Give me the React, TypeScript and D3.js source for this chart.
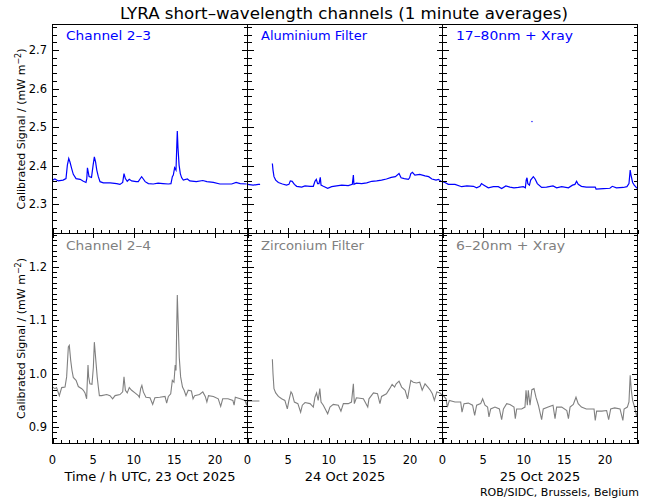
import React from "react";
import * as d3 from "d3";

type Pt = [number, number];

// ---- Data (hours since 23 Oct 2025 00:00 UTC, calibrated signal) ----
const channel23: Pt[] = [
  [0,2.363],[0.3,2.366],[0.7,2.361],[1.3,2.363],[1.66,2.367],[1.83,2.402],[2.0,2.419],[2.15,2.41],[2.36,2.393],[2.56,2.378],[2.9,2.367],[3.4,2.365],[3.8,2.36],[4.12,2.357],[4.22,2.367],[4.3,2.395],[4.4,2.384],[4.5,2.372],[4.8,2.37],[5.0,2.402],[5.15,2.423],[5.3,2.41],[5.45,2.389],[5.64,2.372],[5.85,2.359],[6.26,2.356],[7.1,2.356],[7.9,2.354],[8.3,2.352],[8.64,2.357],[8.8,2.38],[8.97,2.367],[9.2,2.36],[9.45,2.365],[9.74,2.361],[10.3,2.359],[10.56,2.359],[10.77,2.366],[10.97,2.372],[11.18,2.366],[11.4,2.359],[11.8,2.354],[12.4,2.353],[13.0,2.355],[13.6,2.354],[14.26,2.353],[14.58,2.354],[14.75,2.372],[14.87,2.376],[15.03,2.395],[15.2,2.389],[15.3,2.453],[15.36,2.49],[15.45,2.445],[15.58,2.402],[15.73,2.38],[15.9,2.369],[16.1,2.363],[16.6,2.366],[16.9,2.361],[17.7,2.359],[18.5,2.362],[19.0,2.359],[19.8,2.357],[20.6,2.353],[21.4,2.353],[22.05,2.353],[22.6,2.357],[23.1,2.354],[23.9,2.353],
];
const aluminium: Pt[] = [
  [24.0,2.352],[24.7,2.35],[25.33,2.352],[25.55,2.352],[26.3,NaN],[27.06,2.406],[27.14,2.389],[27.26,2.372],[27.47,2.363],[27.8,2.357],[28.3,2.353],[28.8,2.35],[29.1,2.352],[29.27,2.361],[29.5,2.36],[29.77,2.352],[30.05,2.347],[30.67,2.345],[31.08,2.348],[31.7,2.347],[32.1,2.347],[32.3,2.36],[32.47,2.365],[32.63,2.354],[32.8,2.354],[32.96,2.37],[33.05,2.35],[33.33,2.347],[33.87,2.342],[34.36,2.346],[34.97,2.348],[35.6,2.35],[36.4,2.349],[36.9,2.352],[37.03,2.376],[37.1,2.352],[37.4,2.355],[38.05,2.354],[38.67,2.356],[39.3,2.36],[39.9,2.361],[40.5,2.363],[41.1,2.366],[41.7,2.37],[42.2,2.372],[42.65,2.38],[42.9,2.369],[43.3,2.367],[43.8,2.365],[43.95,2.369],[44.1,2.38],[44.3,2.383],[44.6,2.376],[45.2,2.378],[45.85,2.374],[46.3,2.372],[46.7,2.366],[47.2,2.363],[47.5,2.365],[47.9,2.359],
];
const euvXray: Pt[] = [
  [48,2.359],[48.3,2.357],[48.72,2.352],[49.54,2.352],[50.36,2.346],[51.0,2.348],[51.8,2.347],[52.2,2.343],[52.6,2.347],[52.8,2.354],[53.1,2.35],[53.64,2.343],[54.26,2.346],[54.87,2.346],[55.28,2.341],[55.8,2.348],[56.3,2.345],[56.8,2.343],[57.33,2.344],[57.95,2.346],[58.2,2.343],[58.3,2.363],[58.4,2.369],[58.5,2.354],[58.7,2.35],[58.85,2.363],[59.18,2.372],[59.4,2.366],[59.67,2.354],[60.2,2.344],[60.8,2.345],[61.6,2.348],[62.05,2.343],[62.67,2.346],[63.5,2.343],[64.0,2.35],[64.3,2.352],[64.5,2.36],[64.7,2.352],[65.1,2.347],[65.7,2.345],[66.8,2.345],[66.9,2.34],[67.8,2.341],[68.6,2.342],[68.9,2.347],[69.4,2.343],[70.25,2.344],[70.7,2.346],[70.95,2.354],[71.1,2.389],[71.2,2.376],[71.4,2.357],[71.6,2.35],[71.9,2.343],[72,2.343],
];
const euvXrayOutlier: Pt[] = [[59.0, 2.515]];

const channel24: Pt[] = [
  [0,0.975],[0.3,0.972],[0.5,0.974],[0.84,0.959],[1.13,0.974],[1.54,0.975],[1.74,0.994],[1.95,1.05],[2.07,1.053],[2.24,1.025],[2.4,1.006],[2.56,0.993],[2.9,0.9875],[3.18,0.976],[3.6,0.972],[3.8,0.969],[4.0,0.964],[4.2,0.953],[4.29,0.9875],[4.37,1.016],[4.45,0.994],[4.6,0.981],[4.86,0.98],[5.03,1.0125],[5.15,1.059],[5.3,1.031],[5.5,0.994],[5.64,0.975],[5.77,0.959],[6.05,0.959],[6.67,0.961],[7.08,0.959],[7.4,0.953],[7.7,0.959],[8.3,0.961],[8.64,0.966],[8.8,0.994],[8.97,0.969],[9.2,0.964],[9.45,0.974],[9.74,0.969],[10.15,0.964],[10.56,0.959],[10.69,0.956],[10.85,0.972],[11.0,0.978],[11.18,0.966],[11.5,0.956],[12.0,0.955],[12.33,0.9425],[12.6,0.955],[13.2,0.956],[13.85,0.9575],[14.05,0.945],[14.26,0.9575],[14.55,0.9625],[14.75,0.9875],[14.95,0.984],[15.1,1.016],[15.2,1.006],[15.28,1.081],[15.36,1.147],[15.5,1.081],[15.6,1.031],[15.77,0.994],[16.0,0.975],[16.2,0.969],[16.43,0.959],[16.7,0.969],[17.1,0.9675],[17.3,0.953],[17.5,0.959],[18.1,0.961],[18.5,0.966],[18.8,0.9575],[19.0,0.947],[19.2,0.959],[19.8,0.9575],[20.4,0.953],[20.7,0.939],[20.95,0.953],[21.6,0.953],[22.2,0.95],[22.35,0.941],[22.5,0.956],[23.1,0.953],[23.7,0.95],[23.9,0.941],[24,0.95],
];
const zirconium: Pt[] = [
  [24,0.949],[24.8,0.949],[25.33,0.949],[25.46,0.949],[26.3,NaN],[27.06,1.027],[27.14,1.0],[27.26,0.972],[27.47,0.964],[27.8,0.9575],[28.2,0.953],[28.6,0.95],[28.9,0.934],[29.1,0.95],[29.35,0.966],[29.5,0.9625],[29.77,0.947],[30.2,0.944],[30.54,0.928],[30.75,0.941],[31.08,0.946],[31.7,0.944],[32.1,0.9375],[32.3,0.956],[32.5,0.964],[32.7,0.95],[32.9,0.972],[33.05,0.947],[33.33,0.941],[33.87,0.925],[34.15,0.9375],[34.56,0.9425],[35.18,0.941],[35.5,0.93],[35.8,0.944],[36.4,0.944],[36.8,0.947],[37.03,0.981],[37.15,0.944],[37.4,0.955],[38.26,0.953],[38.8,0.9375],[38.95,0.953],[39.5,0.964],[40.0,0.9625],[40.3,0.944],[40.5,0.9575],[41.1,0.9625],[41.5,0.972],[41.8,0.98],[42.1,0.975],[42.3,0.981],[42.65,0.986],[42.97,0.975],[43.4,0.969],[43.7,0.953],[43.88,0.969],[44.1,0.9875],[44.4,0.984],[44.8,0.9825],[45.2,0.984],[45.5,0.969],[45.85,0.981],[46.2,0.975],[46.5,0.969],[46.75,0.9625],[47.0,0.95],[47.3,0.966],[47.7,0.964],[48,0.959],
];
const sxrXray: Pt[] = [
  [48,0.961],[48.1,0.959],[48.43,0.953],[48.6,0.9375],[48.84,0.95],[49.54,0.947],[50.24,0.947],[50.4,0.928],[50.65,0.944],[51.18,0.945],[51.7,0.941],[51.96,0.922],[52.2,0.941],[52.7,0.944],[52.94,0.953],[53.23,0.941],[53.55,0.9375],[53.72,0.919],[53.93,0.934],[54.46,0.9375],[55.0,0.934],[55.28,0.914],[55.5,0.934],[55.9,0.944],[56.3,0.9425],[56.8,0.9375],[56.96,0.916],[57.13,0.934],[57.74,0.934],[58.15,0.9375],[58.28,0.969],[58.44,0.941],[58.56,0.969],[58.77,0.941],[59.0,0.97],[59.26,0.972],[59.5,0.956],[59.8,0.941],[60.2,0.914],[60.4,0.934],[61.0,0.9375],[61.6,0.941],[61.85,0.916],[62.05,0.9375],[62.67,0.9375],[63.3,0.931],[63.5,0.916],[63.7,0.9375],[64.1,0.9425],[64.43,0.956],[64.7,0.944],[65.1,0.9375],[65.7,0.934],[66.65,0.934],[66.8,0.9125],[66.97,0.93],[67.6,0.93],[68.2,0.931],[68.45,0.914],[68.7,0.934],[69.2,0.936],[69.85,0.934],[70.2,0.9125],[70.35,0.934],[70.75,0.9375],[70.95,0.947],[71.1,0.997],[71.24,0.969],[71.4,0.95],[71.7,0.934],[71.9,0.919],[72,0.928],
];

const topLabels = ["Channel 2\u20133", "Aluminium Filter", "17\u201380nm + Xray"];
const bottomLabels = ["Channel 2\u20134", "Zirconium Filter", "6\u201320nm + Xray"];
const dayLabels = ["Time / h UTC, 23 Oct 2025", "24 Oct 2025", "25 Oct 2025"];
const xTickLabels = [0, 5, 10, 15, 20];
const yTicksTop = [2.3, 2.4, 2.5, 2.6, 2.7];
const yTicksBottom = [0.9, 1.0, 1.1, 1.2];
const title = "LYRA short\u2013wavelength channels (1 minute averages)";
const credit = "ROB/SIDC, Brussels, Belgium";

const BLUE = "#0000ff";
const GRAY = "#808080";
const FONT = "'DejaVu Sans', sans-serif";

export default function App() {
  const W = 650, H = 500;
  const L = 52.5, R = 637.5, T = 24.5, M = 233.5, B = 443.5;
  const pw = (R - L) / 3;

  const x = d3.scaleLinear().domain([0, 72]).range([L, R]);
  const yTop = d3.scaleLinear().domain([2.2248, 2.766]).range([M, T]);
  const yBot = d3.scaleLinear().domain([0.8694, 1.2623]).range([B, M]);

  const lineTop = d3.line<Pt>().defined((d) => !isNaN(d[1])).x((d) => x(d[0])).y((d) => yTop(d[1]));
  const lineBot = d3.line<Pt>().defined((d) => !isNaN(d[1])).x((d) => x(d[0])).y((d) => yBot(d[1]));

  const hours = d3.range(0, 25, 1);
  const minorTop = d3.range(0, 28).map((i) => 2.24 + i * 0.02).filter((v) => v <= 2.766);
  const minorBot = d3.range(0, 40).map((i) => 0.87 + i * 0.01).filter((v) => v <= 1.262);

  const ticks: any[] = [];
  for (let p = 0; p < 3; p++) {
    const x0 = L + p * pw;
    const x1 = x0 + pw;
    hours.forEach((h) => {
      const xx = Math.round(x(p * 24 + h)) + 0.5;
      const major = h % 5 === 0;
      const len = major ? 6 : 4;
      ticks.push(<line key={`xt${p}-${h}`} x1={xx} x2={xx} y1={M} y2={M - len} />);
      ticks.push(<line key={`xb${p}-${h}`} x1={xx} x2={xx} y1={B} y2={B - len} />);
      if (major) ticks.push(<line key={`xm${p}-${h}`} x1={xx} x2={xx} y1={M} y2={M + 4} />);
    });
    minorTop.forEach((v, i) => {
      const yy = Math.round(yTop(v)) + 0.5;
      const major = yTicksTop.some((t) => Math.abs(t - v) < 1e-6);
      const len = major ? 6 : 4;
      ticks.push(<line key={`yl${p}-${i}`} x1={x0} x2={x0 + len} y1={yy} y2={yy} />);
      ticks.push(<line key={`yr${p}-${i}`} x1={x1} x2={x1 - len} y1={yy} y2={yy} />);
    });
    minorBot.forEach((v, i) => {
      const yy = Math.round(yBot(v)) + 0.5;
      const major = yTicksBottom.some((t) => Math.abs(t - v) < 1e-6);
      const len = major ? 6 : 4;
      ticks.push(<line key={`bl${p}-${i}`} x1={x0} x2={x0 + len} y1={yy} y2={yy} />);
      ticks.push(<line key={`br${p}-${i}`} x1={x1} x2={x1 - len} y1={yy} y2={yy} />);
    });
  }

  const panelLabelWidthsTop = [85, 106, 117];
  const panelLabelWidthsBot = [85, 103, 109];

  return (
    <svg width={W} height={H} style={{ display: "block", position: "absolute", left: 0, top: 0 }} fontFamily={FONT}>
      <rect width={W} height={H} fill="#fff" />
      <defs>
        <clipPath id="clipTop"><rect x={L} y={T} width={R - L} height={M - T} /></clipPath>
        <clipPath id="clipBot"><rect x={L} y={M} width={R - L} height={B - M} /></clipPath>
      </defs>

      <text x={344} y={18.5} fontSize={15.5} textAnchor="middle" textLength={448} lengthAdjust="spacingAndGlyphs">{title}</text>

      <g clipPath="url(#clipTop)" fill="none" stroke={BLUE} strokeWidth={1.2}>
        <path d={lineTop(channel23) || ""} />
        <path d={lineTop(aluminium) || ""} />
        <path d={lineTop(euvXray) || ""} />
        {euvXrayOutlier.map((d, i) => (
          <rect key={i} x={x(d[0]) - 0.5} y={yTop(d[1]) - 0.5} width={1.2} height={1.2} fill={BLUE} stroke="none" />
        ))}
      </g>
      <g clipPath="url(#clipBot)" fill="none" stroke={GRAY} strokeWidth={1.1}>
        <path d={lineBot(channel24) || ""} />
        <path d={lineBot(zirconium) || ""} />
        <path d={lineBot(sxrXray) || ""} />
      </g>

      <g fill="none" stroke="#000" strokeWidth={1} shapeRendering="crispEdges">
        <rect x={L} y={T} width={R - L} height={B - T} />
        <line x1={L} x2={R} y1={M} y2={M} />
        <line x1={L + pw} x2={L + pw} y1={T} y2={B} />
        <line x1={L + 2 * pw} x2={L + 2 * pw} y1={T} y2={B} />
        {ticks}
      </g>

      {topLabels.map((t, p) => (
        <text key={t} x={L + p * pw + 13.5} y={T + 15.5} fontSize={13} fill={BLUE} textLength={panelLabelWidthsTop[p]} lengthAdjust="spacingAndGlyphs">{t}</text>
      ))}
      {bottomLabels.map((t, p) => (
        <text key={t} x={L + p * pw + 13.5} y={M + 16.5} fontSize={13} fill={GRAY} textLength={panelLabelWidthsBot[p]} lengthAdjust="spacingAndGlyphs">{t}</text>
      ))}

      {yTicksTop.map((v) => (
        <text key={`yt${v}`} x={47} y={yTop(v) + 4} fontSize={11.5} textAnchor="end">{v.toFixed(1)}</text>
      ))}
      {yTicksBottom.map((v) => (
        <text key={`yb${v}`} x={47} y={yBot(v) + 4} fontSize={11.5} textAnchor="end">{v.toFixed(1)}</text>
      ))}

      {[0, 1, 2].map((p) =>
        xTickLabels.map((h) => (
          <text key={`xl${p}-${h}`} x={x(p * 24 + h)} y={463.5} fontSize={11.5} textAnchor="middle">{h}</text>
        ))
      )}
      {dayLabels.map((t, p) => (
        <text key={t} x={L + p * pw + pw / 2} y={481} fontSize={13} textAnchor="middle">{t}</text>
      ))}

      {[(T + M) / 2, (M + B) / 2].map((cy, i) => (
        <text key={`ya${i}`} transform={`translate(25,${cy}) rotate(-90)`} fontSize={11} textAnchor="middle">
          Calibrated Signal / (mW m<tspan dy={-4} fontSize={8}>{"\u22122"}</tspan><tspan dy={4}>)</tspan>
        </text>
      ))}

      <text x={639} y={496} fontSize={11} textAnchor="end">{credit}</text>
    </svg>
  );
}
